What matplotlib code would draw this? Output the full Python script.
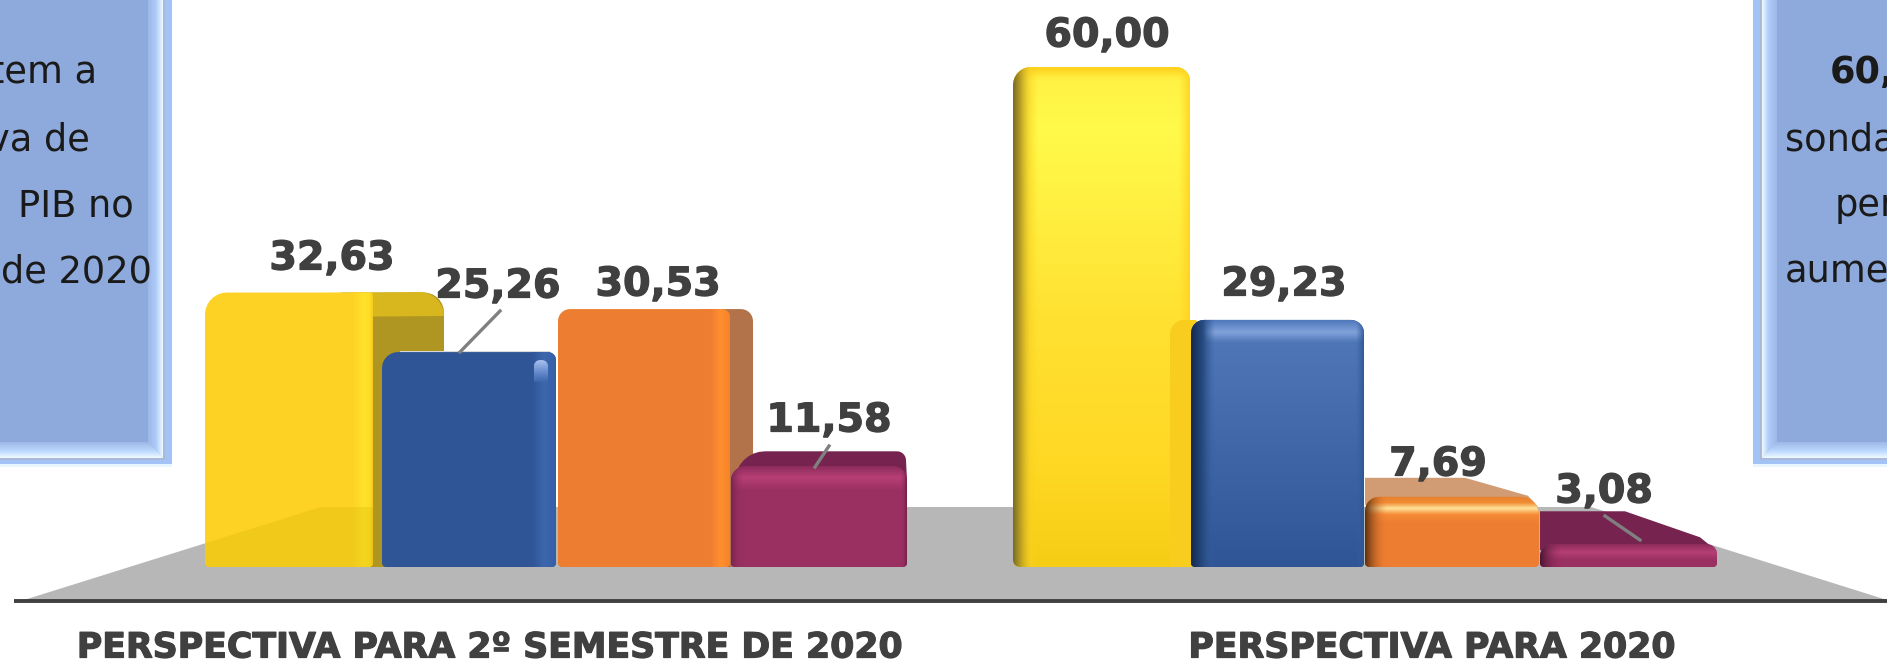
import numpy as np
import matplotlib
matplotlib.use("Agg")
import matplotlib.pyplot as plt
import matplotlib.patheffects as pe
from matplotlib.patches import Polygon, Rectangle
from matplotlib.colors import to_rgba

# ---- data -------------------------------------------------------------
groups = ["PERSPECTIVA PARA 2º SEMESTRE DE 2020", "PERSPECTIVA PARA 2020"]
group1_values = [32.63, 25.26, 30.53, 11.58]
group2_values = [60.00, 29.23, 7.69, 3.08]
group1_labels = ["32,63", "25,26", "30,53", "11,58"]
group2_labels = ["60,00", "29,23", "7,69", "3,08"]
left_panel_text = ["tem a", "va de", "PIB no", "de 2020"]
right_panel_text = ["60,", "sonda", "per", "aume"]

# ---- layout -----------------------------------------------------------
W, H = 1887, 661
BASE = 567.0      # pixel row of value zero
PX = 8.35         # pixels per unit of value
fig = plt.figure(figsize=(W / 100, H / 100), dpi=100)
ax = fig.add_axes([0, 0, 1, 1])
ax.set_axis_off()
plt.rcParams["font.family"] = ["DejaVu Sans"]

def Y(p):
    return (BASE - p) / PX

def grad(extent_px, stops, clip=None, vertical=False, z=3):
    x0, x1, y0, y1 = extent_px
    t = np.linspace(0, 1, 128)
    pos = [s[0] for s in stops]
    cols = np.array([to_rgba(s[1]) for s in stops])
    arr = np.stack([np.interp(t, pos, cols[:, k]) for k in range(4)], axis=-1)
    arr = arr[:, None, :] if vertical else arr[None, :, :]
    im = ax.imshow(arr, extent=(x0, x1, Y(y1), Y(y0)), origin="upper", aspect="auto",
                   zorder=z, interpolation="bilinear")
    if clip is not None:
        im.set_clip_path(clip)
    return im

def corner(cx, cy, r, a0, a1):
    a = np.radians(np.linspace(a0, a1, 8))
    return [(cx + r * np.cos(v), cy - r * np.sin(v)) for v in a]

def box(x0, x1, top, bottom=BASE, rl=12, rr=12, rb=4, color="k", z=3):
    pts = (corner(x0 + rl, top + rl, rl, 180, 90) + corner(x1 - rr, top + rr, rr, 90, 0)
           + corner(x1 - rb, bottom - rb, rb, 0, -90) + corner(x0 + rb, bottom - rb, rb, -90, -180))
    return poly(pts, color, z=z)

def poly(points, color, z=3, alpha=None):
    p = Polygon([(x, Y(y)) for x, y in points], closed=True, fc=color, ec="none",
                zorder=z, alpha=alpha)
    ax.add_patch(p)
    return p

def top_of(v, shift=0.0):
    return BASE - v * PX + shift

# ---- floor and axis line ----------------------------------------------
FLOOR = [(24, 600), (321, 507), (1591, 507), (1887, 600)]
poly(FLOOR, "#B7B7B7", z=1)
ax.plot([14, W], [Y(601), Y(601)], color="#404040", lw=2.8, zorder=2, solid_capstyle="butt")

# ---- left group -------------------------------------------------------
YEL, BLU, ORA, PUR = "#FDD225", "#2F5597", "#ED7D31", "#9A3062"
e1 = [205, 382, 558, 731, 907]

t = top_of(group1_values[0])
box(340, 444, t - 2, rl=2, rr=20, color="#AF9521", z=2)
poly(corner(205 + 24, 318, 24, 180, 90) + corner(420, 316, 24, 90, 0), "#D8B61E", z=2.5)
front = box(e1[0], 373, t - 2, rl=22, rr=3, color=YEL, z=3)
grad((352, 373, 290, 570), [(0, "#FDD225"), (0.55, "#FFE22A"), (0.85, "#FFDD28"), (1, "#F4C81C")], clip=front, z=3.2)
ov = poly(FLOOR, "#D0B000", z=3.4, alpha=0.25)
ov.set_clip_path(front)

t = top_of(group1_values[2], -3)
box(700, 753, t, rl=3, rr=12, color="#B2734A", z=2.6)
front = box(e1[2], 730, t, rl=12, rr=8, color=ORA, z=4)
grad((710, 730, t, BASE), [(0, "#ED7D31"), (0.5, "#FF8F2F"), (1, "#F58428")], clip=front, z=4.2)

t = top_of(group1_values[1], -4)
ax.add_patch(Rectangle((400, Y(t + 6)), 150, 7 / PX, fc="#D9D9D9", ec="none", zorder=3.5))
front = box(e1[1], 556, t, rl=16, rr=8, color=BLU, z=5)
grad((532, 556, t, BASE), [(0, "#2F5597"), (0.5, "#3D66AD"), (1, "#3560A6")], clip=front, z=5.2)
spot = box(534, 548, t + 8, t + 30, rl=6, rr=6, rb=2, color="#3D66AD", z=5.25)
grad((534, 548, t + 8, t + 30), [(0, "#A9C2EE"), (0.5, "#6C8FD0"), (1, "#3D66AD")], clip=spot, vertical=True, z=5.3)

t = top_of(group1_values[3], -4)
poly(corner(735 + 30, t + 15, 30, 170, 90) + corner(897, t - 6, 9, 90, 0) + [(907, t + 14), (735, t + 14)],
     "#76244F", z=4.5)
front = box(e1[3], e1[4], t, rl=14, rr=14, color=PUR, z=6)
grad((e1[3], e1[4], t, t + 25), [(0, "#8C2B5B"), (0.45, "#B63F76"), (1, PUR)], clip=front, vertical=True, z=6.2)
grad((e1[3], e1[3] + 12, t, BASE), [(0, "#7A2450"), (1, "#9A306200")], clip=front, z=6.3)
grad((e1[4] - 6, e1[4], t, BASE), [(0, "#9A306200"), (1, "#6F2148")], clip=front, z=6.3)

# ---- right group ------------------------------------------------------
e2 = [1012, 1191, 1365, 1540, 1717]

t = top_of(group2_values[0], 1)
front = box(e2[0] + 1, e2[1] - 1, t, rl=18, rr=14, rb=7, color=YEL, z=3)
grad((e2[0], e2[1], t, BASE), [(0, "#FFD21F"), (0.02, "#FFF245"), (0.12, "#FFFA4A"),
                               (0.5, "#FFE132"), (0.8, "#FFD824"), (1, "#F6CD15")],
     clip=front, vertical=True, z=3.1)
grad((e2[0], e2[0] + 26, t, BASE), [(0, "#6E6428"), (0.3, "#B49A24"), (0.7, "#F5CF2480"), (1, "#FFD82400")],
     clip=front, z=3.3)
grad((e2[1] - 12, e2[1], t, BASE), [(0, "#FFD82400"), (1, "#FFD21E")], clip=front, z=3.3)
box(1170, e2[1] + 6, 320, rl=14, rr=2, color="#F8CD1E", z=3.5)

t = top_of(group2_values[1], -3)
front = box(e2[1], e2[2] - 1, t, rl=13, rr=13, color=BLU, z=4)
grad((e2[1], e2[2], t, BASE), [(0, "#4E77BA"), (0.05, "#82A2DB"), (0.09, "#4F76B7"), (1, "#2F5597")],
     clip=front, vertical=True, z=4.1)
grad((e2[1], e2[1] + 24, t, BASE), [(0, "#14294F"), (0.5, "#274C82"), (1, "#3A63A000")], clip=front, z=4.2)
grad((e2[2] - 9, e2[2], t, BASE), [(0, "#3A63A000"), (1, "#2A5394")], clip=front, z=4.2)

t = top_of(group2_values[2], -6)
poly([(e2[2], t + 8), (e2[2], t - 19), (1465, t - 19), (1528, t - 1), (1538, t + 10)], "#D19C74", z=3.5)
front = box(e2[2], e2[3] - 1, t, rl=14, rr=18, color=ORA, z=5)
grad((e2[2], e2[3], t, t + 27), [(0, "#E9822E"), (0.2, "#F08A32"), (0.42, "#FFE39A"), (0.65, "#F58A35"), (1, ORA)],
     clip=front, vertical=True, z=5.1)
grad((e2[2], e2[2] + 22, t, BASE), [(0, "#5A3010"), (1, "#ED7D3100")], clip=front, z=5.2)

t = top_of(group2_values[3], 3)
poly([(e2[3], t + 6), (e2[3], t - 33), (1625, t - 33), (1700, t - 7), (1716, t + 6)], "#76244F", z=3.5)
front = box(e2[3], e2[4], t, rl=12, rr=10, color=PUR, z=5)
grad((e2[3], e2[4], t, BASE), [(0, "#8C2B5B"), (0.35, "#B63F76"), (0.7, PUR), (1, PUR)],
     clip=front, vertical=True, z=5.1)
grad((e2[3], e2[3] + 22, t, BASE), [(0, "#4A1733"), (1, "#9A306200")], clip=front, z=5.2)

# ---- value labels and leader lines ------------------------------------
LBL = "#404040"
thick = [pe.withStroke(linewidth=0.9, foreground=LBL)]
label_xy1 = [(332, 254), (498, 282), (658, 280), (829, 416)]
label_xy2 = [(1107, 31), (1284, 280), (1438, 460), (1604, 487)]
for s, (x, y) in list(zip(group1_labels, label_xy1)) + list(zip(group2_labels, label_xy2)):
    ax.text(x, Y(y), s, ha="center", va="center_baseline", fontsize=28.5, fontweight="bold",
            color=LBL, zorder=9, path_effects=thick)
for (x0, y0, x1, y1) in [(500, 311, 460, 352), (829, 446, 815, 467), (1605, 516, 1640, 540)]:
    ax.plot([x0, x1], [Y(y0), Y(y1)], color="#808080", lw=2.4, zorder=8)

# ---- category labels --------------------------------------------------
for s, x in zip(groups, [490, 1432]):
    ax.text(x, Y(644), s, ha="center", va="center_baseline", fontsize=25, fontweight="bold",
            color=LBL, path_effects=thick)

# ---- side panels ------------------------------------------------------
OUT_B, IN_B, FILLC = "#A3C3F7", "#F0FBFF", "#8EA9DB"
INNER = "#9DB8E6"

poly([(0, -5), (172, -5), (172, 467), (0, 467)], OUT_B, z=1)
poly([(0, 464), (172, 464), (172, 467), (0, 467)], "#E8F6FF", z=1.1)
poly([(0, -5), (165, -5), (165, 460), (0, 460)], "#AAB9D8", z=1.2)
r = poly([(148, -5), (163, -5), (163, 458), (148, 442)], "#BBBBDD", z=1.3)
grad((148, 163, -5, 460), [(0, INNER), (0.55, "#AECBFA"), (1, IN_B)], clip=r, z=1.4)
r = poly([(0, 442), (148, 442), (163, 458), (0, 458)], "#BBBBDD", z=1.3)
grad((0, 163, 442, 458), [(0, INNER), (0.55, "#BBD8FF"), (1, IN_B)], clip=r, vertical=True, z=1.4)
poly([(0, -5), (148, -5), (148, 442), (0, 442)], FILLC, z=1.5)

poly([(1753, -5), (W + 5, -5), (W + 5, 467), (1753, 467)], OUT_B, z=1)
poly([(1753, 464), (W + 5, 464), (W + 5, 467), (1753, 467)], "#E8F6FF", z=1.1)
poly([(1760, -5), (W + 5, -5), (W + 5, 460), (1760, 460)], "#AAB9D8", z=1.2)
r = poly([(1762, -5), (1777, -5), (1777, 442), (1762, 458)], "#BBBBDD", z=1.3)
grad((1762, 1777, -5, 460), [(0, IN_B), (0.45, "#AECBFA"), (1, INNER)], clip=r, z=1.4)
r = poly([(1762, 458), (1777, 442), (W + 5, 442), (W + 5, 458)], "#BBBBDD", z=1.3)
grad((1762, W + 5, 442, 458), [(0, INNER), (0.55, "#BBD8FF"), (1, IN_B)], clip=r, vertical=True, z=1.4)
poly([(1777, -5), (W + 5, -5), (W + 5, 442), (1777, 442)], FILLC, z=1.5)

rows = [69, 136, 202, 268]
for s, y, x in zip(left_panel_text, rows, [97, 90, 134, 152]):
    ax.text(x, Y(y), s, ha="right", va="center_baseline", fontsize=26.5, color="#1A1A1A", zorder=7)
for s, y, x in zip(right_panel_text, rows, [1830, 1785, 1835, 1785]):
    ax.text(x, Y(y), s, ha="left", va="center_baseline", fontsize=26.5, color="#1A1A1A", zorder=7,
            fontweight="bold" if s.startswith("60") else "normal")

ax.set_xlim(0, W)
ax.set_ylim(Y(H), Y(0))
fig.savefig("out.png", dpi=100, facecolor="white")
